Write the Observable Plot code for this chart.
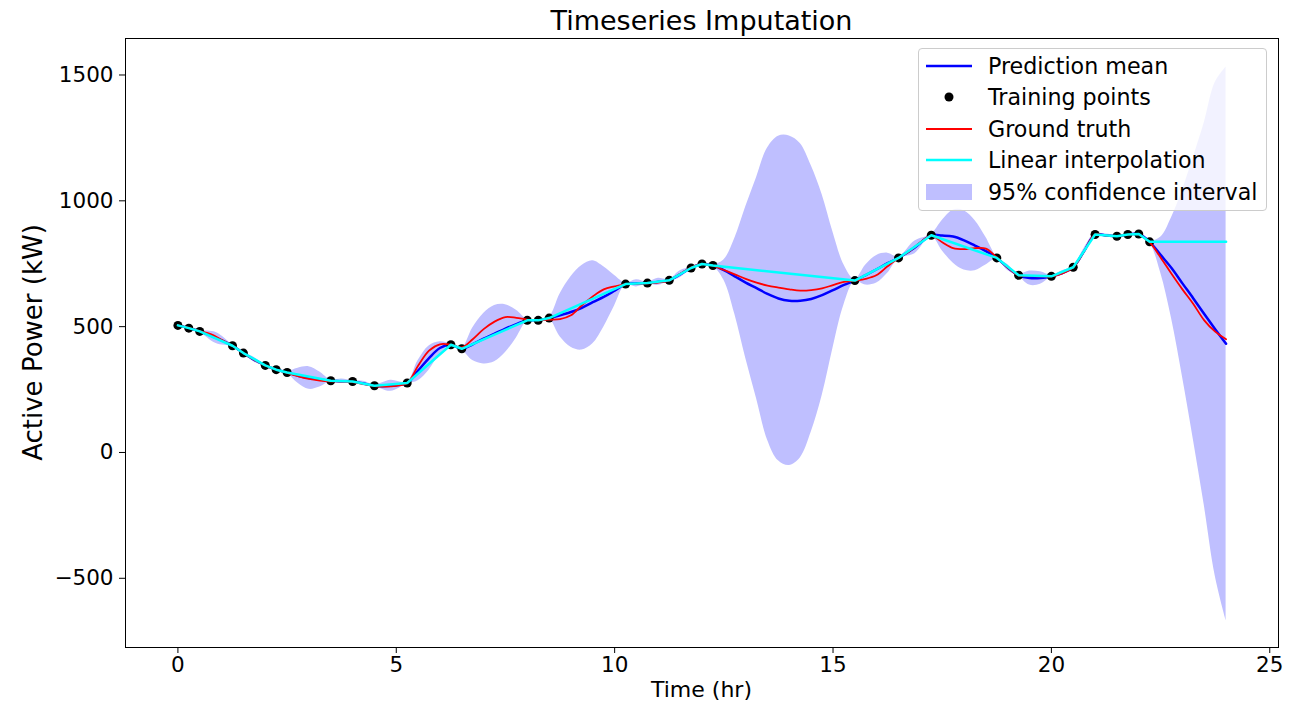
<!DOCTYPE html>
<html>
<head>
<meta charset="utf-8">
<script src="https://cdn.jsdelivr.net/npm/d3@7"></script>
<script src="https://cdn.jsdelivr.net/npm/@observablehq/plot@0.6"></script>
<style>
  html, body { margin: 0; padding: 0; background: white; }
  #wrap { position: relative; width: 1304px; height: 703px; font-family: "DejaVu Sans", sans-serif; }
  #chart svg { display: block; }
  #labels { position: absolute; left: 0; top: 0; pointer-events: none; }
  #legend {
    position: absolute; left: 918px; top: 48px; width: 349px; height: 163px;
    background: rgba(255,255,255,0.8); border: 1px solid #cccccc; border-radius: 4px;
    box-sizing: border-box; font-size: 22.2px; color: #000; padding-top: 1px;
  }
  .row { display: flex; align-items: center; height: 31.5px; }
  .row svg { margin-left: 7px; margin-right: 16px; flex: none; }
</style>
</head>
<body>
<div id="wrap">
  <div id="chart"></div>
  <svg id="labels" width="1304" height="703" font-family="DejaVu Sans, sans-serif">
    <text x="701.5" y="30" text-anchor="middle" font-size="27">Timeseries Imputation</text>
    <text x="701.5" y="697" text-anchor="middle" font-size="22">Time (hr)</text>
    <text transform="translate(42,342.5) rotate(-90)" text-anchor="middle" font-size="26">Active Power (kW)</text>
  </svg>
  <div id="legend">
    <div class="row"><svg width="46" height="20"><line x1="0" x2="46" y1="10" y2="10" stroke="#0000ff" stroke-width="2.5"/></svg><span>Prediction mean</span></div>
    <div class="row"><svg width="46" height="20"><circle cx="23" cy="10" r="4.5" fill="#000"/></svg><span>Training points</span></div>
    <div class="row"><svg width="46" height="20"><line x1="0" x2="46" y1="10" y2="10" stroke="#ff0000" stroke-width="1.8"/></svg><span>Ground truth</span></div>
    <div class="row"><svg width="46" height="20"><line x1="0" x2="46" y1="10" y2="10" stroke="#00ffff" stroke-width="2.5"/></svg><span>Linear interpolation</span></div>
    <div class="row"><svg width="46" height="20"><rect x="0" y="2" width="46" height="16" fill="#bfbfff"/></svg><span>95% confidence interval</span></div>
  </div>
</div>
<script>
// Training points (hr, kW)
const trainT = [0, 0.25, 0.5, 1.25, 1.5, 2, 2.25, 2.5, 3.5, 4, 4.5, 5.25, 6.25, 6.5, 8, 8.25, 8.5,
  10.25, 10.75, 11.25, 11.75, 12, 12.25, 15.5, 16.5, 17.25, 18.75, 19.25, 20, 20.5, 21, 21.5, 21.75, 22, 22.25];
const trainV = [505, 494, 481, 424, 395, 346, 329, 318, 285, 282, 265, 276, 428, 412, 525, 525, 534,
  669, 673, 684, 733, 749, 743, 683, 773, 863, 773, 704, 700, 736, 866, 859, 866, 868, 837];

// Prediction grid (hr)
const gridT = [0, 0.25, 0.5, 0.875, 1.25, 1.5, 1.75, 2, 2.25, 2.5, 2.75, 3, 3.25, 3.5, 3.75, 4, 4.25, 4.5, 4.875,
  5.25, 5.5, 5.75, 6, 6.25, 6.5, 6.75, 7, 7.25, 7.5, 7.75, 8, 8.25, 8.5, 8.75, 9, 9.25, 9.5, 9.75, 10,
  10.25, 10.5, 10.75, 11, 11.25, 11.5, 11.75, 12, 12.25, 12.5, 12.75, 13, 13.25, 13.5, 13.75, 14, 14.25,
  14.5, 14.75, 15, 15.25, 15.5, 15.75, 16, 16.25, 16.5, 16.875, 17.25, 17.5, 17.75, 18, 18.25, 18.5, 18.75,
  19, 19.25, 19.5, 19.75, 20, 20.25, 20.5, 20.75, 21, 21.25, 21.5, 21.75, 22, 22.25, 22.5, 22.75, 23,
  23.25, 23.5, 23.75, 24];
// Prediction mean (kW)
const meanV = [505, 494, 481, 455, 424, 395, 368, 346, 329, 318, 305, 296, 290, 285, 283, 282, 274, 265, 265,
  276, 325, 375, 415, 428, 412, 430, 452, 472, 492, 510, 525, 525, 534, 545, 558, 575, 597, 618, 643,
  669, 672, 673, 678, 684, 708, 733, 749, 743, 725, 700, 675, 653, 630, 612, 603, 603,
  610, 625, 645, 666, 683, 705, 728, 752, 773, 815, 863, 862, 858, 843, 822, 800, 773,
  735, 704, 693, 693, 700, 713, 736, 800, 866, 862, 859, 866, 868, 837, 785, 733, 672,
  612, 550, 490, 432];
// 95% confidence interval, lower bound (kW)
const ciLow = [501, 490, 477, 433, 420, 391, 359, 342, 325, 314, 275, 251, 260, 281, 274, 278, 265, 261, 243,
  272, 285, 327, 390, 424, 408, 365, 352, 360, 397, 455, 521, 521, 530, 460, 418, 407, 432, 498, 583,
  665, 658, 669, 664, 680, 694, 729, 745, 739, 685, 550, 375, 213, 50, -33, -52, -22,
  80, 225, 415, 586, 679, 665, 673, 712, 769, 790, 859, 802, 753, 725, 722, 745, 769,
  723, 700, 665, 668, 696, 704, 732, 788, 862, 856, 855, 862, 864, 833, 715, 533, 302,
  52, -210, -490, -668];
// 95% confidence interval, upper bound (kW)
const ciHigh = [509, 498, 485, 477, 428, 399, 377, 350, 333, 322, 335, 341, 320, 289, 292, 286, 283, 269, 287,
  280, 365, 423, 440, 432, 416, 495, 552, 584, 587, 565, 529, 529, 538, 630, 698, 743, 762, 738, 703,
  673, 686, 677, 692, 688, 722, 737, 753, 747, 765, 850, 975, 1093, 1210, 1257, 1258, 1228,
  1140, 1025, 875, 746, 687, 745, 783, 792, 777, 840, 867, 922, 963, 961, 922, 855, 777,
  747, 708, 721, 718, 704, 722, 740, 812, 870, 868, 863, 870, 872, 841, 855, 933, 1042,
  1172, 1310, 1470, 1532];

// Ground truth (hr, kW)
const truthT = [0, 0.25, 0.5, 0.75, 1, 1.25, 1.5, 1.75, 2, 2.25, 2.5, 2.75, 3, 3.25, 3.5, 3.75, 4, 4.25, 4.5, 4.75,
  5, 5.25, 5.5, 5.75, 6, 6.25, 6.5, 6.75, 7, 7.25, 7.5, 7.75, 8, 8.25, 8.5, 8.75, 9, 9.25, 9.5, 9.75,
  10, 10.25, 10.5, 10.75, 11, 11.25, 11.5, 11.75, 12, 12.25, 12.5, 12.75, 13, 13.25, 13.5, 13.75, 14, 14.25,
  14.5, 14.75, 15, 15.25, 15.5, 15.75, 16, 16.25, 16.5, 16.75, 17, 17.25, 17.5, 17.75, 18, 18.25, 18.5, 18.75,
  19, 19.25, 19.5, 19.75, 20, 20.25, 20.5, 20.75, 21, 21.25, 21.5, 21.75, 22, 22.25, 22.5, 22.75, 23,
  23.25, 23.5, 23.75, 24];
const truthV = [505, 495, 482, 470, 448, 424, 395, 368, 346, 329, 316, 303, 292, 286, 283, 282, 280, 272, 264, 262,
  265, 276, 345, 405, 430, 428, 418, 450, 490, 520, 538, 535, 528, 525, 528, 530, 545, 585, 620, 648,
  660, 669, 670, 672, 675, 684, 710, 735, 748, 742, 725, 708, 690, 675, 663, 655, 648, 643,
  645, 652, 665, 678, 683, 690, 705, 740, 773, 800, 835, 862, 835, 812, 808, 812, 810, 775,
  735, 704, 702, 700, 700, 712, 736, 800, 866, 862, 860, 865, 866, 835, 775, 710, 648,
  590, 525, 480, 450];

const xTicks = [0, 5, 10, 15, 20, 25];
const yTicks = [-500, 0, 500, 1000, 1500];
const plainTick = d => (d < 0 ? "\u2212" : "") + String(Math.abs(d));

const predRows = gridT.map((t, i) => ({t, mean: meanV[i], lo: ciLow[i], hi: ciHigh[i]}));
const trainRows = trainT.map((t, i) => ({t, v: trainV[i]}));
const truthRows = truthT.map((t, i) => ({t, v: truthV[i]}));
// linear interpolation through training points, held flat to the end of the window
const linRows = trainRows.concat([{t: gridT[gridT.length - 1], v: trainV[trainV.length - 1]}]);

const chart = Plot.plot({
  width: 1304,
  height: 703,
  marginLeft: 125,
  marginRight: 26,
  marginTop: 38,
  marginBottom: 56,
  style: {fontFamily: "DejaVu Sans, sans-serif", fontSize: "21.5px", color: "black", background: "transparent"},
  x: {domain: [-1.2, 25.2], ticks: xTicks, tickFormat: plainTick, tickSize: 6, tickPadding: 3, label: null},
  y: {domain: [-775, 1645], ticks: yTicks, tickFormat: plainTick, tickSize: 6, tickPadding: 6, label: null},
  marks: [
    Plot.areaY(predRows, {x: "t", y1: "lo", y2: "hi", fill: "#bfbfff", curve: "catmull-rom"}),
    Plot.line(predRows, {x: "t", y: "mean", stroke: "#0000ff", strokeWidth: 2.5, curve: "catmull-rom"}),
    Plot.dot(trainRows, {x: "t", y: "v", r: 4.5, fill: "black", stroke: "none"}),
    Plot.line(truthRows, {x: "t", y: "v", stroke: "#ff0000", strokeWidth: 1.8, curve: "catmull-rom"}),
    Plot.line(linRows, {x: "t", y: "v", stroke: "#00ffff", strokeWidth: 2.5}),
    Plot.frame({stroke: "black", strokeWidth: 1})
  ]
});
document.getElementById("chart").appendChild(chart);
</script>
</body>
</html>
